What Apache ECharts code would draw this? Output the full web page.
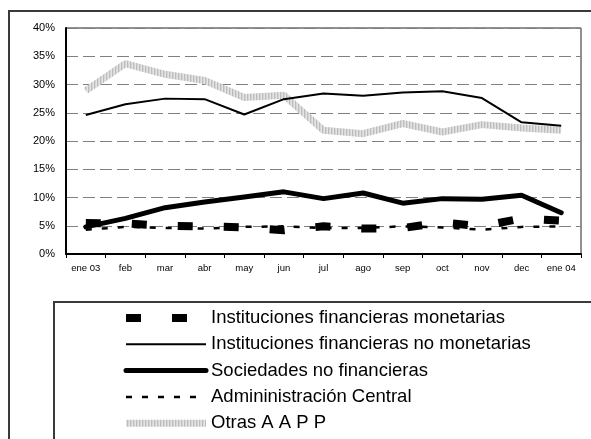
<!DOCTYPE html>
<html>
<head>
<meta charset="utf-8">
<script src="https://cdn.jsdelivr.net/npm/echarts@6/dist/echarts.min.js"></script>
<style>
  html, body { margin: 0; padding: 0; background: #fff; }
  #chart { width: 591px; height: 439px; }
</style>
</head>
<body>
<div id="chart"></div>
<script>
  // months, Jan 2003 .. Jan 2004
  const months = ['ene 03', 'feb', 'mar', 'abr', 'may', 'jun', 'jul', 'ago', 'sep', 'oct', 'nov', 'dec', 'ene 04'];

  // shares in %
  const monetarias = [5.5, 5.4, 5.0, 4.9, 4.7, 4.2, 4.9, 4.5, 4.6, 5.6, 4.9, 6.3, 5.9];
  const noMonetarias = [24.6, 26.5, 27.5, 27.4, 24.7, 27.4, 28.4, 28.0, 28.6, 28.8, 27.6, 23.3, 22.7];
  const sociedades = [4.8, 6.3, 8.2, 9.2, 10.1, 11.0, 9.8, 10.8, 9.0, 9.8, 9.7, 10.4, 7.3];
  const adminCentral = [4.3, 4.8, 4.6, 4.5, 4.8, 4.9, 4.6, 4.6, 4.9, 4.7, 4.3, 4.8, 4.9];
  const otrasAAPP = [28.9, 33.7, 31.8, 30.7, 27.7, 28.1, 21.9, 21.3, 23.1, 21.6, 22.9, 22.3, 21.9];

  const seriesNames = [
    'Instituciones financieras monetarias',
    'Instituciones financieras no monetarias',
    'Sociedades no financieras',
    'Admininistración Central',
    'Otras A A P P'
  ];

  // hatched grey texture for the "Otras" line
  function hatch() {
    const c = document.createElement('canvas');
    c.width = 3;
    c.height = 1;
    const ctx = c.getContext('2d');
    ctx.fillStyle = '#e4e4e4'; ctx.fillRect(0, 0, 1, 1);
    ctx.fillStyle = '#bcbcbc'; ctx.fillRect(1, 0, 1, 1);
    ctx.fillStyle = '#d6d6d6'; ctx.fillRect(2, 0, 1, 1);
    return { image: c, repeat: 'repeat' };
  }

  const styles = {
    ifm: { color: '#000', width: 8, type: [15, 31], cap: 'butt' },
    ifnm: { color: '#000', width: 2, type: 'solid' },
    snf: { color: '#000', width: 5, type: 'solid', cap: 'round' },
    adm: { color: '#000', width: 2.5, type: [6, 10] },
    otras: { color: hatch(), width: 7, type: 'solid' }
  };

  const chart = echarts.init(document.getElementById('chart'), null, { renderer: 'canvas' });

  const font = 'Arial, "Liberation Sans", sans-serif';
  const hidden = { opacity: 0 };

  const option = {
    animation: false,
    backgroundColor: '#fff',
    textStyle: { fontFamily: font },
    graphic: [
      { type: 'rect', z: -10, shape: { x: 9, y: 11, width: 700, height: 600 },
        style: { fill: 'none', stroke: '#3a3a3a', lineWidth: 2 } },
      { type: 'rect', z: -10, shape: { x: 54, y: 302, width: 700, height: 300 },
        style: { fill: 'none', stroke: '#3a3a3a', lineWidth: 2 } }
    ],
    grid: {
      left: 66, top: 28, right: 10, bottom: 185,
      show: true, borderColor: '#222', borderWidth: 1
    },
    legend: {
      orient: 'vertical',
      left: 117, top: 303,
      height: 200,
      itemWidth: 80, itemHeight: 10,
      itemGap: 6.3,
      selectedMode: false,
      data: [
        { name: seriesNames[0], lineStyle: styles.ifm, itemStyle: hidden },
        { name: seriesNames[1], lineStyle: styles.ifnm, itemStyle: hidden },
        { name: seriesNames[2], lineStyle: styles.snf, itemStyle: hidden },
        { name: seriesNames[3], lineStyle: styles.adm, itemStyle: hidden },
        { name: seriesNames[4], lineStyle: styles.otras, itemStyle: hidden }
      ],
      textStyle: { fontSize: 18.5, color: '#000', lineHeight: 20, fontFamily: font }
    },
    xAxis: {
      type: 'category',
      data: months,
      boundaryGap: true,
      axisLine: { lineStyle: { color: '#000', width: 2 } },
      axisTick: { show: true, length: 4, lineStyle: { color: '#000' } },
      axisLabel: { fontSize: 9.5, color: '#000', margin: 9, interval: 0 },
      splitLine: { show: false }
    },
    yAxis: {
      type: 'value',
      min: 0, max: 40, interval: 5,
      axisLine: { show: true, lineStyle: { color: '#000', width: 2 } },
      axisTick: { show: false },
      axisLabel: { fontSize: 11, color: '#000', margin: 11, formatter: '{value}%' },
      splitLine: { show: true, lineStyle: { color: '#808080', width: 1, type: [12, 5] } }
    },
    series: [
      {
        name: seriesNames[4], type: 'line', data: otrasAAPP, symbol: 'none', z: 1,
        lineStyle: styles.otras, itemStyle: { color: '#c8c8c8' }
      },
      {
        name: seriesNames[1], type: 'line', data: noMonetarias, symbol: 'none', z: 2,
        lineStyle: styles.ifnm, itemStyle: { color: '#000' }
      },
      {
        name: seriesNames[2], type: 'line', data: sociedades, symbol: 'none', z: 3,
        lineStyle: styles.snf, itemStyle: { color: '#000' }
      },
      {
        name: seriesNames[3], type: 'line', data: adminCentral, symbol: 'none', z: 4,
        lineStyle: styles.adm, itemStyle: { color: '#000' }
      },
      {
        name: seriesNames[0], type: 'line', data: monetarias, symbol: 'none', z: 5,
        lineStyle: styles.ifm, itemStyle: { color: '#000' }
      }
    ]
  };

  chart.setOption(option);
</script>
</body>
</html>
